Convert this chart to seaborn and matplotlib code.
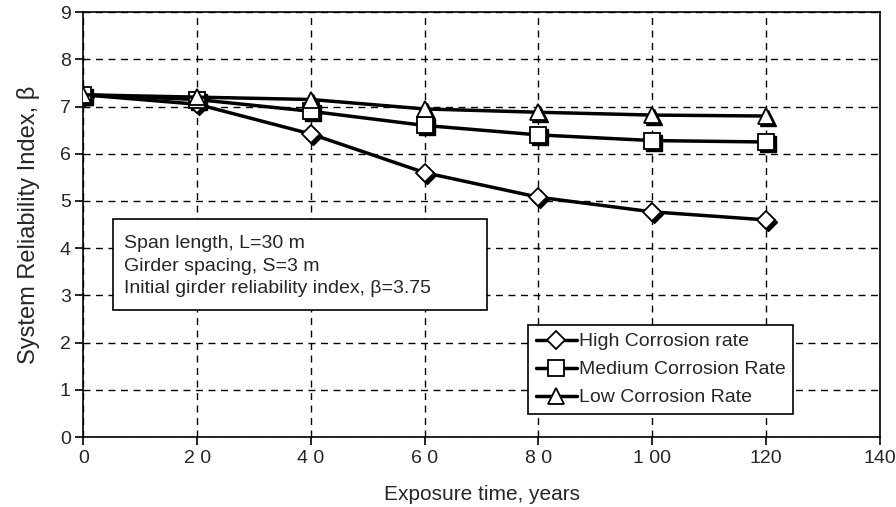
import pandas as pd
import matplotlib
matplotlib.use("Agg")
import matplotlib.pyplot as plt
import matplotlib.patches as mpatches
import matplotlib.transforms as mtransforms
import seaborn as sns

# data
years = [0, 20, 40, 60, 80, 100, 120]
high_rate = [7.25, 7.05, 6.42, 5.6, 5.08, 4.77, 4.6]
medium_rate = [7.25, 7.15, 6.9, 6.6, 6.4, 6.28, 6.25]
low_rate = [7.25, 7.2, 7.15, 6.95, 6.88, 6.82, 6.8]
series_names = ["High Corrosion rate", "Medium Corrosion Rate", "Low Corrosion Rate"]
x_ticks = [0, 20, 40, 60, 80, 100, 120, 140]
x_tick_labels = ["0", "2 0", "4 0", "6 0", "8 0", "1 00", "120", "140"]
y_ticks = list(range(0, 10))

sns.set_style("white")
plt.rcParams["font.family"] = ["Liberation Sans", "DejaVu Sans"]

df = pd.DataFrame({
    "year": years * 3,
    "beta": high_rate + medium_rate + low_rate,
    "series": [series_names[0]] * 7 + [series_names[1]] * 7 + [series_names[2]] * 7,
})

fig = plt.figure(figsize=(8.96, 5.07), dpi=100)
ax = fig.add_axes([0.093, 0.138, 0.889, 0.838])

markers = {series_names[0]: "D", series_names[1]: "s", series_names[2]: "^"}
sizes = {series_names[0]: 9, series_names[1]: 11, series_names[2]: 12}

# offset transform for the dark drop shadow under each marker
shadow_tr = mtransforms.offset_copy(ax.transData, fig=fig, x=2, y=-2, units="dots")

for name in series_names:
    sub = df[df["series"] == name]
    ax.plot(sub["year"], sub["beta"], linestyle="none", marker=markers[name],
            markersize=sizes[name], color="black", transform=shadow_tr, zorder=3)
    sns.lineplot(data=sub, x="year", y="beta", ax=ax, color="black", linewidth=2.5,
                 marker=markers[name], markersize=sizes[name], markerfacecolor="white",
                 markeredgecolor="black", markeredgewidth=1.3, label=name, zorder=4)

ax.set_xlim(0, 140)
ax.set_ylim(0, 9)
ax.set_xticks(x_ticks)
ax.set_xticklabels(x_tick_labels)
ax.set_yticks(y_ticks)
ax.tick_params(labelsize=14, direction="out", length=6, width=1.2, color="black",
               left=True, bottom=True, pad=3)
ax.grid(True, color="black", linestyle=(0, (5, 4)), linewidth=1.0)
for s in ax.spines.values():
    s.set_color("black")
    s.set_linewidth(1.2)

ax.set_xlabel("Exposure time, years", fontsize=15, labelpad=13)
ax.set_ylabel("System Reliability Index, \u03b2", fontsize=17, labelpad=14)

box = mpatches.Rectangle((0.0376, 0.299), 0.469, 0.214, transform=ax.transAxes,
                         facecolor="white", edgecolor="black", linewidth=1.2, zorder=5)
ax.add_patch(box)
ax.text(0.0514, 0.476,
        "Span length, L=30 m\nGirder spacing, S=3 m\nInitial girder reliability index, \u03b2=3.75",
        transform=ax.transAxes, fontsize=14, va="top", ha="left", linespacing=1.45, zorder=6)

leg = ax.legend(loc="lower right", bbox_to_anchor=(0.891, 0.054), borderaxespad=0,
                fontsize=14, frameon=True, fancybox=False, edgecolor="black",
                handlelength=2.1, handletextpad=0.1, borderpad=0.4, labelspacing=0.53)
leg.get_frame().set_linewidth(1.2)
leg.get_frame().set_alpha(1)
leg.set_zorder(6)

fig.savefig("out.png", dpi=100)
